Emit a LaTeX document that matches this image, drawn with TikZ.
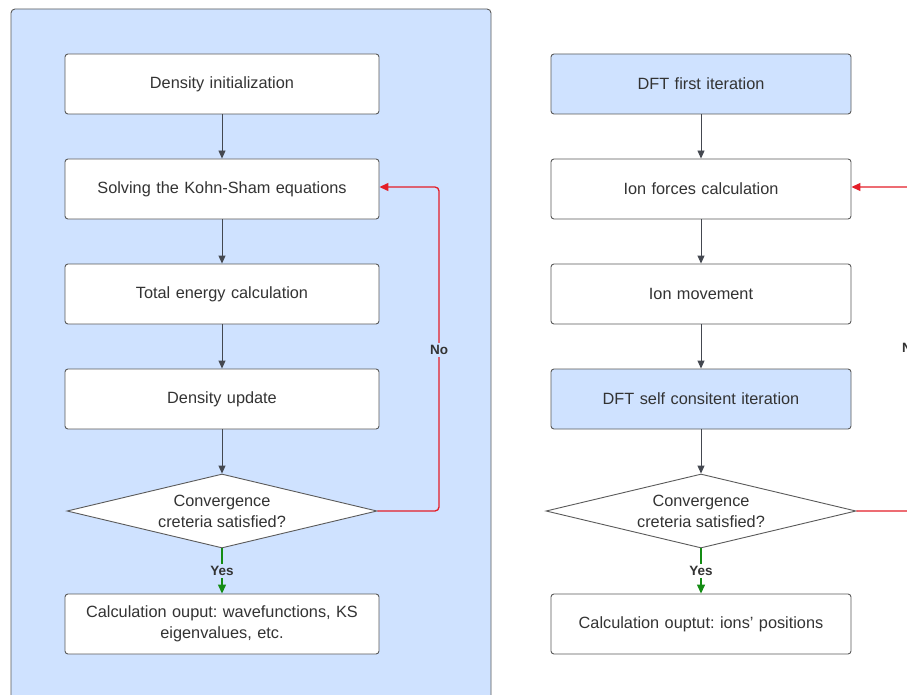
\documentclass[tikz,border=0pt]{standalone}
\usepackage{fontspec}
\setmainfont{Liberation Sans}
\frenchspacing
\usetikzlibrary{shapes.geometric,arrows.meta}
\definecolor{panel}{RGB}{207,226,255}
\definecolor{boxblue}{RGB}{207,226,255}
\definecolor{txt}{RGB}{51,51,51}
\definecolor{edge}{RGB}{90,90,90}
\definecolor{arr}{RGB}{68,72,80}
\definecolor{myred}{RGB}{228,30,40}
\definecolor{mygreen}{RGB}{20,140,20}
\tikzset{
  box/.style={draw=edge, line width=0.9pt, fill=white, rounded corners=3pt, minimum height=60pt, inner sep=2pt, align=center, font=\fontsize{16.3}{21}\selectfont, text=txt},
  lbox/.style={box, minimum width=314pt, text width=300pt},
  rbox/.style={box, minimum width=300pt, text width=290pt},
  dec/.style={draw=edge, line width=0.9pt, fill=white, diamond, aspect=4.2, inner sep=0pt, align=center, font=\fontsize{16.3}{21}\selectfont, text=txt},
  flow/.style={draw=arr, line width=0.9pt, -{Triangle[length=8pt,width=7pt]}},
  noflow/.style={draw=myred, line width=1.3pt, rounded corners=4pt, -{Triangle[length=9pt,width=8pt]}},
  yesflow/.style={draw=mygreen, line width=1.3pt, -{Triangle[length=9pt,width=8pt]}},
  lab/.style={font=\bfseries\fontsize{13.5}{15}\selectfont, text=txt, inner sep=2pt}
}
\begin{document}
\begin{tikzpicture}[x=1pt,y=-1pt]
\useasboundingbox (0,0) rectangle (907,695);
\clip (0,0) rectangle (907,695);
\fill[white] (0,0) rectangle (907,695);
\draw[draw=edge, fill=panel, line width=0.9pt, rounded corners=4pt] (11,9) rectangle (491,730);
% left column
\node[lbox] (l1) at (222,84) {Density initialization};
\node[lbox] (l2) at (222,189) {Solving the Kohn-Sham equations};
\node[lbox] (l3) at (222,294) {Total energy calculation};
\node[lbox] (l4) at (222,399) {Density update};
\node[dec, minimum width=310pt, minimum height=74pt] (l5) at (222,511) {Convergence\\creteria satisfied?};
\node[lbox] (l6) at (222,624) {Calculation ouput: wavefunctions, KS\\eigenvalues, etc.};
\draw[flow] (l1) -- (l2);
\draw[flow] (l2) -- (l3);
\draw[flow] (l3) -- (l4);
\draw[flow] (l4) -- (l5);
\draw[yesflow] (l5.south) -- node[lab, fill=panel] {Yes} (l6.north);
\draw[noflow] (l5.east) -- (439,511) -- (439,187) -- (l2.east|-0,187);
\node[lab, fill=panel] (nol) at (439,350) {No};
% right column
\node[rbox, fill=boxblue] (r1) at (701,84) {DFT first iteration};
\node[rbox] (r2) at (701,189) {Ion forces calculation};
\node[rbox] (r3) at (701,294) {Ion movement};
\node[rbox, fill=boxblue] (r4) at (701,399) {DFT self consitent iteration};
\node[dec, minimum width=310pt, minimum height=74pt] (r5) at (701,511) {Convergence\\creteria satisfied?};
\node[rbox] (r6) at (701,624) {Calculation ouptut: ions' positions};
\draw[flow] (r1) -- (r2);
\draw[flow] (r2) -- (r3);
\draw[flow] (r3) -- (r4);
\draw[flow] (r4) -- (r5);
\draw[yesflow] (r5.south) -- node[lab, fill=white] {Yes} (r6.north);
\coordinate (rx1) at (916,511);
\coordinate (rx2) at (916,187);
\draw[noflow] (r5.east) -- (rx1) -- (rx2) -- (r2.east|-0,187);
\node[lab, fill=white, anchor=west] (nor) at (900,348) {No};
\end{tikzpicture}
\end{document}
